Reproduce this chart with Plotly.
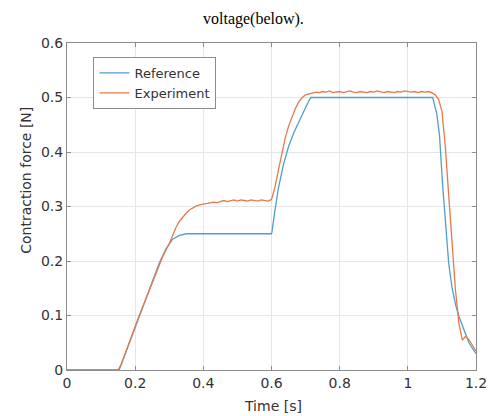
import plotly.graph_objects as go

# Reference trajectory
ref_t = [0, 0.15, 0.153, 0.20, 0.25, 0.27, 0.29, 0.31, 0.33, 0.35, 0.60, 0.601, 0.61, 0.62,
         0.635, 0.65, 0.665, 0.68, 0.695, 0.705, 0.715, 1.073, 1.085, 1.093, 1.102, 1.112, 1.12,
         1.13, 1.14, 1.15, 1.16, 1.17, 1.18, 1.19, 1.20]
ref_f = [0, 0, 0, 0.078, 0.162, 0.195, 0.222, 0.240, 0.247, 0.250, 0.250, 0.252, 0.292, 0.333,
         0.377, 0.410, 0.435, 0.456, 0.475, 0.488, 0.500, 0.500, 0.47, 0.43, 0.34, 0.25, 0.195,
         0.15, 0.12, 0.098, 0.083, 0.065, 0.049, 0.039, 0.030]

# Experiment (sampled every 0.01 s)
exp_t = [round(i * 0.01, 2) for i in range(121)]
exp_f = [0, 0, 0, 0, 0, 0, 0, 0, 0, 0,
         0, 0, 0, 0, 0, 0.0, 0.012, 0.030, 0.047, 0.063,
         0.080, 0.097, 0.113, 0.130, 0.146, 0.162, 0.178, 0.193, 0.207, 0.220,
         0.232, 0.247, 0.262, 0.273, 0.281, 0.288, 0.294, 0.298, 0.301, 0.303,
         0.304, 0.306, 0.306, 0.308, 0.307, 0.309, 0.311, 0.309, 0.311, 0.312,
         0.310, 0.312, 0.311, 0.310, 0.312, 0.311, 0.310, 0.312, 0.311, 0.310,
         0.313, 0.335, 0.366, 0.398, 0.425, 0.447, 0.465, 0.480, 0.492, 0.500,
         0.505, 0.507, 0.508, 0.510, 0.509, 0.511, 0.510, 0.512, 0.509, 0.510,
         0.511, 0.509, 0.510, 0.512, 0.510, 0.509, 0.511, 0.510, 0.509, 0.511,
         0.510, 0.512, 0.510, 0.509, 0.511, 0.510, 0.509, 0.511, 0.510, 0.512,
         0.511, 0.510, 0.511, 0.509, 0.511, 0.510, 0.511, 0.509, 0.505, 0.497,
         0.475, 0.410, 0.320, 0.230, 0.145, 0.085, 0.055, 0.062, 0.055, 0.045,
         0.035]

x_ticks = [0, 0.2, 0.4, 0.6, 0.8, 1.0, 1.2]
x_labels = ["0", "0.2", "0.4", "0.6", "0.8", "1", "1.2"]
y_ticks = [0, 0.1, 0.2, 0.3, 0.4, 0.5, 0.6]
y_labels = ["0", "0.1", "0.2", "0.3", "0.4", "0.5", "0.6"]

font_family = "DejaVu Sans"
tick_color = "#333333"

# the page body adds an 8 px margin; the figure is sized to fit the window
W, H = 491, 408
OFF = 8
L, T = 67 - OFF, 43 - OFF
R, B = 15, 46
plot_w = W - L - R
plot_h = H - T - B

def px_x(x):
    return (x - OFF - L) / plot_w

def px_y(y):
    return (H - B - (y - OFF)) / plot_h

fig = go.Figure()
fig.add_trace(go.Scatter(x=ref_t, y=ref_f, mode="lines", name="Reference",
                         line=dict(color="#4f9fcb", width=1.3)))
fig.add_trace(go.Scatter(x=exp_t, y=exp_f, mode="lines", name="Experiment",
                         line=dict(color="#e8784a", width=1.3)))

axis_common = dict(showgrid=True, gridcolor="#e6e6e6", gridwidth=1,
                   showline=True, linecolor="#8c8c8c", linewidth=1, mirror="ticks",
                   ticks="inside", ticklen=4, tickcolor="#8c8c8c", zeroline=False,
                   tickfont=dict(family=font_family, size=14, color=tick_color))

fig.update_layout(
    width=W, height=H,
    margin=dict(l=L, r=R, t=T, b=B),
    paper_bgcolor="white", plot_bgcolor="white",
    showlegend=True,
    legend=dict(x=px_x(94), y=px_y(57), xanchor="left", yanchor="top",
                bordercolor="#8c8c8c", borderwidth=1, bgcolor="white",
                font=dict(family=font_family, size=13, color=tick_color),
                tracegroupgap=0, itemwidth=30),
    xaxis=dict(range=[0, 1.2], tickvals=x_ticks, ticktext=x_labels, **axis_common),
    yaxis=dict(range=[0, 0.6], tickvals=y_ticks, ticktext=y_labels, **axis_common),
    annotations=[
        dict(text="voltage(below).", xref="paper", yref="paper", x=px_x(257), y=px_y(19),
             showarrow=False, xanchor="center", yanchor="middle",
             font=dict(family="Liberation Serif", size=16, color="black")),
        dict(text="Contraction force [N]", xref="paper", yref="paper",
             x=px_x(25), y=px_y(180), textangle=-90,
             showarrow=False, xanchor="center", yanchor="middle",
             font=dict(family=font_family, size=14, color=tick_color)),
        dict(text="Time [s]", xref="paper", yref="paper",
             x=px_x(277), y=px_y(406),
             showarrow=False, xanchor="center", yanchor="middle",
             font=dict(family=font_family, size=14, color=tick_color)),
    ],
)

fig.write_html("out.html")
